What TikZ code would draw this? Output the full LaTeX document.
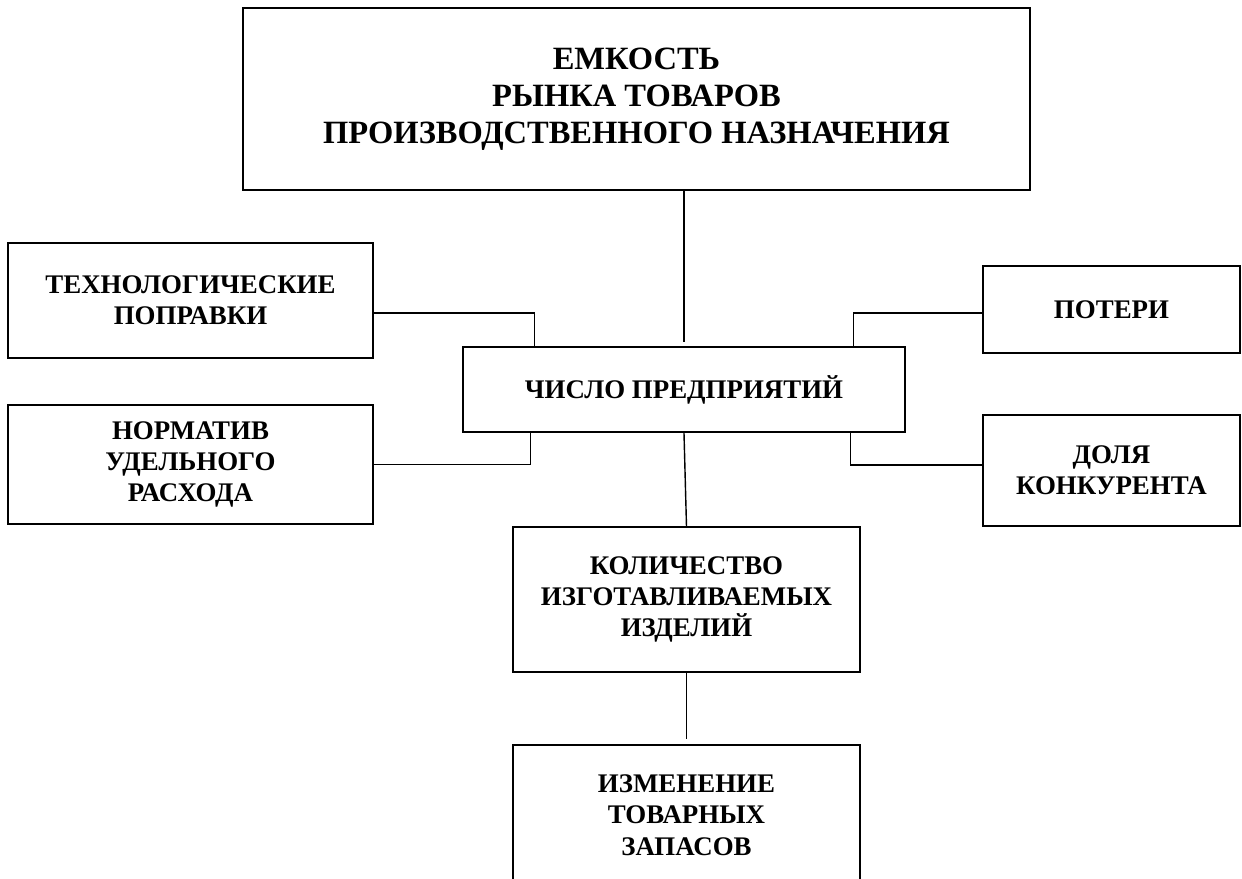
\documentclass[tikz,border=0pt]{standalone}
\usepackage{fontspec}
\setmainfont{Liberation Serif}
\usepackage{tikz}

\begin{document}
\begin{tikzpicture}[node distance=2cm]
\tikzstyle{box} = [rectangle, draw=black, line width=0.9pt, text centered, align=center, font=\fontsize{15.3}{17.8}\selectfont\bfseries, inner sep=0pt]
\tikzstyle{line} = [line width=0.8pt]

\clip (-13.68,-9.79) rectangle (11.16,7.79);

\node (chislo) [box, minimum width=8.84cm, minimum height=1.7cm] {ЧИСЛО ПРЕДПРИЯТИЙ};
\node (top) [box, minimum width=15.74cm, minimum height=3.64cm, above of=chislo, xshift=-0.95cm, yshift=3.81cm, font=\fontsize{18.5}{21}\selectfont\bfseries] {ЕМКОСТЬ\\РЫНКА ТОВАРОВ\\ПРОИЗВОДСТВЕННОГО НАЗНАЧЕНИЯ};
\node (tech) [box, minimum width=7.3cm, minimum height=2.3cm, left of=chislo, xshift=-7.87cm, yshift=1.78cm] {ТЕХНОЛОГИЧЕСКИЕ\\ПОПРАВКИ};
\node (poteri) [box, minimum width=5.14cm, minimum height=1.74cm, right of=chislo, xshift=6.55cm, yshift=1.6cm] {ПОТЕРИ};
\node (normativ) [box, minimum width=7.3cm, minimum height=2.38cm, left of=chislo, xshift=-7.87cm, yshift=-1.5cm] {НОРМАТИВ\\УДЕЛЬНОГО\\РАСХОДА};
\node (dolya) [box, minimum width=5.14cm, minimum height=2.22cm, right of=chislo, xshift=6.55cm, yshift=-1.62cm] {ДОЛЯ\\КОНКУРЕНТА};
\node (kol) [box, minimum width=6.94cm, minimum height=2.9cm, below of=chislo, xshift=0.05cm, yshift=-2.2cm] {КОЛИЧЕСТВО\\ИЗГОТАВЛИВАЕМЫХ\\ИЗДЕЛИЙ};
\node (izm) [box, minimum width=6.94cm, minimum height=2.8cm, below of=kol, yshift=-2.31cm] {ИЗМЕНЕНИЕ\\ТОВАРНЫХ\\ЗАПАСОВ};

\draw [line] (chislo.north |- top.south) -- ([yshift=0.08cm]chislo.north);
\draw [line] ([yshift=-0.25cm]tech.east) -| ([xshift=1.44cm, yshift=-0.04cm]chislo.north west);
\draw [line] ([yshift=-0.07cm]poteri.west) -| ([xshift=-1.04cm, yshift=-0.04cm]chislo.north east);
\draw [line] (normativ.east) -| ([xshift=1.36cm]chislo.south west);
\draw [line] ([yshift=0.11cm]dolya.west) -| ([xshift=-1.1cm]chislo.south east);
\draw [line] (chislo.south) -- (kol.north);
\draw [line] (kol.south) -- ([yshift=0.1cm]izm.north);
\end{tikzpicture}
\end{document}
